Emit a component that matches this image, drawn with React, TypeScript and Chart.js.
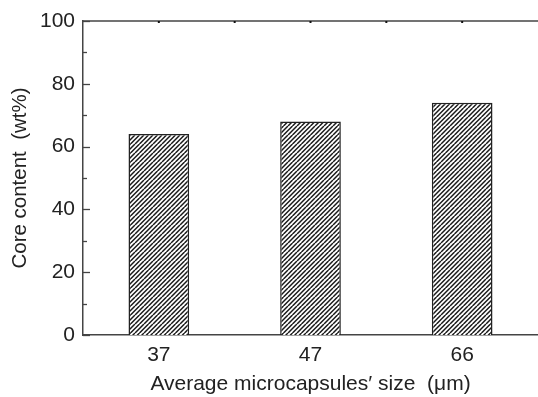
import React, { useEffect, useRef } from 'react';
import { Chart, registerables } from 'chart.js';

Chart.register(...registerables);

const categories = ['37', '47', '66'];
const coreContent = [64, 68, 74];
const yMin = 0;
const yMax = 100;
const yStep = 20;
const yMinorStep = 10;

const FONT = "'Liberation Sans', Arial, Helvetica, sans-serif";
const TEXT = '#222';
const AXIS = '#444';

function makeHatch(): CanvasPattern | string {
  const c = document.createElement('canvas');
  const s = 9;
  c.width = s;
  c.height = s;
  const ctx = c.getContext('2d');
  if (!ctx) return '#fff';
  ctx.fillStyle = '#fff';
  ctx.fillRect(0, 0, s, s);
  ctx.strokeStyle = '#1a1a1a';
  ctx.lineWidth = 1.5;
  ctx.beginPath();
  for (let k = -s; k <= 2 * s; k += s / 2) {
    ctx.moveTo(k, s);
    ctx.lineTo(k + s, 0);
  }
  ctx.stroke();
  return ctx.createPattern(c, 'repeat') || '#fff';
}

const axisDecor = {
  id: 'axisDecor',
  afterDraw(chart: any) {
    const { ctx, chartArea, scales } = chart;
    const y = scales.y;
    const x = scales.x;
    ctx.save();
    ctx.strokeStyle = AXIS;
    ctx.lineWidth = 1.5;
    // top frame line
    ctx.beginPath();
    ctx.moveTo(chartArea.left - 0.75, chartArea.top);
    ctx.lineTo(chart.width, chartArea.top);
    ctx.stroke();
    // inward y ticks
    ctx.lineWidth = 1.3;
    for (let v = yMin; v <= yMax; v += yMinorStep) {
      const py = Math.round(y.getPixelForValue(v)) + 0.5;
      const len = v % yStep === 0 ? 7 : 4;
      ctx.beginPath();
      ctx.moveTo(chartArea.left, py);
      ctx.lineTo(chartArea.left + len, py);
      ctx.stroke();
    }
    // small top ticks at category centres and boundaries
    ctx.strokeStyle = '#111';
    ctx.lineWidth = 2;
    for (let i = 0; i < categories.length; i++) {
      const cx = x.getPixelForValue(i);
      const next = i < categories.length - 1 ? x.getPixelForValue(i + 1) : null;
      ctx.beginPath();
      ctx.moveTo(cx, chartArea.top);
      ctx.lineTo(cx, chartArea.top + 2);
      ctx.stroke();
      if (next !== null) {
        const bx = (cx + next) / 2;
        ctx.beginPath();
        ctx.moveTo(bx, chartArea.top);
        ctx.lineTo(bx, chartArea.top + 2);
        ctx.stroke();
      }
    }
    ctx.restore();
  },
};

export default function App() {
  const ref = useRef<HTMLCanvasElement | null>(null);

  useEffect(() => {
    document.body.style.margin = '0';
    const canvas = ref.current;
    if (!canvas) return;
    const hatch = makeHatch();
    const chart = new Chart(canvas, {
      type: 'bar',
      data: {
        labels: categories,
        datasets: [
          {
            data: coreContent,
            backgroundColor: hatch as any,
            borderColor: '#222',
            borderWidth: 1.5,
            barPercentage: 0.4,
            categoryPercentage: 1,
          },
        ],
      },
      options: {
        responsive: false,
        animation: false,
        devicePixelRatio: 1,
        layout: { padding: { left: 8, top: 21, right: 0, bottom: 0 } },
        plugins: {
          legend: { display: false },
          tooltip: { enabled: false },
        },
        scales: {
          x: {
            grid: { display: false, drawTicks: false },
            border: { display: true, color: AXIS, width: 1.5 },
            ticks: {
              color: TEXT,
              font: { family: FONT, size: 21 },
              padding: 8,
              maxRotation: 0,
            },
            title: {
              display: true,
              text: 'Average microcapsules\u2032 size  (\u03bcm)',
              color: TEXT,
              font: { family: FONT, size: 21 },
              padding: { top: 0, bottom: 0 },
            },
            afterFit: (s: any) => {
              s.height = 62;
            },
          },
          y: {
            min: yMin,
            max: yMax,
            grid: { display: false, drawTicks: false },
            border: { display: true, color: AXIS, width: 1.5 },
            ticks: {
              stepSize: yStep,
              color: TEXT,
              font: { family: FONT, size: 21 },
              padding: 8,
            },
            title: {
              display: true,
              text: 'Core content  (wt%)',
              color: TEXT,
              font: { family: FONT, size: 20.5 },
              padding: { top: 0, bottom: 0 },
            },
            afterFit: (s: any) => {
              s.width = 75;
            },
          },
        },
      },
      plugins: [axisDecor],
    });
    return () => chart.destroy();
  }, []);

  return (
    <div style={{ width: 538, height: 397 }}>
      <canvas ref={ref} width={538} height={397} style={{ display: 'block', width: 538, height: 397 }} />
    </div>
  );
}
